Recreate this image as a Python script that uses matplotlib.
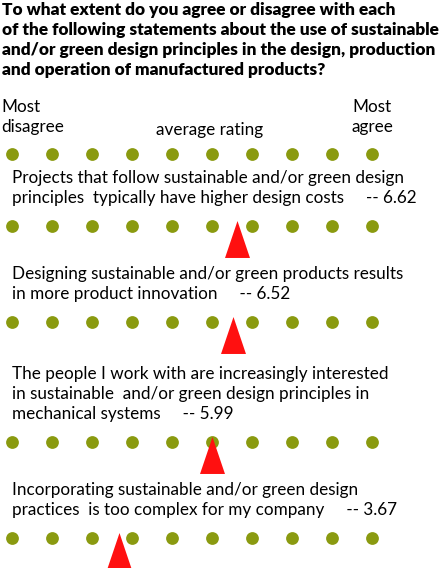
import matplotlib
matplotlib.use("Agg")
import matplotlib.pyplot as plt

# ----- Data -----
title_lines = [
    "To what extent do you agree or disagree with each",
    "of the following statements about the use of sustainable",
    "and/or green design principles in the design, production",
    "and operation of manufactured products?",
]
scale_points = [1, 2, 3, 4, 5, 6, 7, 8, 9, 10]
statements = [
    ["Projects that follow sustainable and/or green design",
     "principles  typically have higher design costs     -- 6.62"],
    ["Designing sustainable and/or green products results",
     "in more product innovation     -- 6.52"],
    ["The people I work with are increasingly interested",
     "in sustainable  and/or green design principles in",
     "mechanical systems     -- 5.99"],
    ["Incorporating sustainable and/or green design",
     "practices  is too complex for my company     -- 3.67"],
]
ratings = [6.62, 6.52, 5.99, 3.67]

# ----- Layout (pixel rows, top origin) -----
W, H = 447, 568
scale_row_y = 154
dot_rows_y = [226, 322, 442, 538]
line_gap = 20
fs = 12.3
dot_color = "#8a9a10"
tri_color = "#ff1010"
# rating -> pixel x is 12 + (v - 1) * 40
xmin = 1 - 12 / 40
xmax = 1 + (W - 12) / 40

fig = plt.figure(figsize=(W / 100, H / 100), dpi=100)
ax = fig.add_axes([0, 0, 1, 1])
ax.set_xlim(xmin, xmax)
ax.set_ylim(H, 0)
ax.axis("off")

# title
for i, line in enumerate(title_lines):
    ax.text(0.75, 10 + i * line_gap, line, fontsize=12.45, fontweight="heavy",
            family="Lato", va="center", ha="left")

# scale headers
ax.text(0.725, 107, "Most", fontsize=fs, family="Lato", va="center")
ax.text(0.725, 127, "disagree", fontsize=fs, family="Lato", va="center")
ax.text(5.95, 130, "average rating", fontsize=fs, family="Lato",
        va="center", ha="center")
ax.text(10, 107, "Most", fontsize=fs, family="Lato", va="center", ha="center")
ax.text(10, 127, "agree", fontsize=fs, family="Lato", va="center", ha="center")

# dot rows
for y in [scale_row_y] + dot_rows_y:
    ax.plot(scale_points, [y] * len(scale_points), "o", ms=9.2,
            color=dot_color, mec="none")

# statements + triangles
tri = [(0, 1), (-0.676, -1), (0.676, -1)]
for lines, v, y in zip(statements, ratings, dot_rows_y):
    top = y - 28 - (len(lines) - 1) * line_gap
    for j, line in enumerate(lines):
        ax.text(1.0, top + j * line_gap, line, fontsize=fs, family="Lato",
                va="center", ha="left")
    ax.plot([v], [y + 12.5], marker=tri, ms=26.6, color=tri_color,
            mec="none", clip_on=False)

fig.savefig("out.png", dpi=100)
